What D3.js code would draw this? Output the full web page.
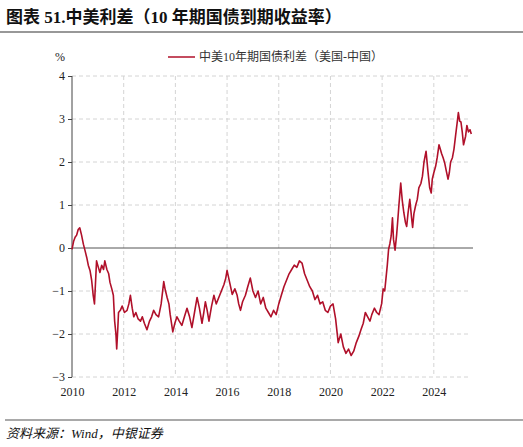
<!DOCTYPE html>
<html><head><meta charset="utf-8">
<script src="https://cdn.jsdelivr.net/npm/d3@7"></script>
<style>body{margin:0;background:#fff}svg{display:block}</style>
</head><body>
<script>
const years = [2010.0,2010.06,2010.12,2010.18,2010.24,2010.3,2010.37,2010.44,2010.5,2010.57,2010.63,2010.7,2010.76,2010.82,2010.87,2010.91,2010.95,2011.02,2011.08,2011.15,2011.22,2011.27,2011.35,2011.42,2011.47,2011.54,2011.6,2011.65,2011.7,2011.73,2011.77,2011.8,2011.87,2011.94,2012.03,2012.13,2012.2,2012.26,2012.33,2012.39,2012.47,2012.56,2012.65,2012.72,2012.8,2012.9,2013.0,2013.08,2013.16,2013.25,2013.35,2013.45,2013.55,2013.6,2013.68,2013.75,2013.8,2013.9,2013.98,2014.06,2014.15,2014.25,2014.35,2014.45,2014.55,2014.64,2014.74,2014.84,2014.93,2015.03,2015.1,2015.16,2015.23,2015.3,2015.4,2015.49,2015.58,2015.68,2015.78,2015.88,2015.95,2016.0,2016.1,2016.2,2016.3,2016.39,2016.45,2016.52,2016.6,2016.71,2016.8,2016.9,2017.0,2017.1,2017.2,2017.3,2017.4,2017.5,2017.6,2017.7,2017.8,2017.9,2018.0,2018.1,2018.2,2018.3,2018.4,2018.5,2018.6,2018.7,2018.8,2018.9,2019.0,2019.1,2019.2,2019.3,2019.4,2019.5,2019.6,2019.7,2019.8,2019.9,2020.0,2020.1,2020.2,2020.3,2020.4,2020.5,2020.6,2020.7,2020.8,2020.9,2021.0,2021.1,2021.18,2021.27,2021.35,2021.44,2021.53,2021.6,2021.7,2021.79,2021.88,2021.98,2022.04,2022.1,2022.15,2022.2,2022.25,2022.3,2022.35,2022.4,2022.44,2022.5,2022.56,2022.6,2022.65,2022.72,2022.78,2022.84,2022.9,2022.95,2023.0,2023.07,2023.14,2023.18,2023.23,2023.3,2023.36,2023.42,2023.5,2023.56,2023.62,2023.7,2023.77,2023.84,2023.9,2023.94,2024.0,2024.07,2024.13,2024.2,2024.25,2024.3,2024.36,2024.42,2024.48,2024.55,2024.6,2024.65,2024.72,2024.78,2024.84,2024.9,2024.95,2025.0,2025.05,2025.1,2025.15,2025.23,2025.28,2025.34,2025.4,2025.45,2025.49];
const spread = [-0.03,0.15,0.25,0.3,0.43,0.47,0.3,0.09,-0.05,-0.22,-0.4,-0.53,-0.75,-1.1,-1.3,-0.8,-0.3,-0.45,-0.57,-0.4,-0.5,-0.3,-0.5,-0.6,-0.8,-0.95,-1.1,-1.7,-2.0,-2.35,-1.9,-1.5,-1.45,-1.35,-1.5,-1.45,-1.3,-1.1,-1.4,-1.6,-1.5,-1.65,-1.7,-1.6,-1.75,-1.9,-1.7,-1.6,-1.45,-1.55,-1.6,-1.3,-0.78,-0.95,-1.15,-1.3,-1.55,-1.95,-1.75,-1.6,-1.7,-1.8,-1.6,-1.4,-1.6,-1.85,-1.5,-1.15,-1.4,-1.75,-1.5,-1.25,-1.45,-1.7,-1.35,-1.1,-1.3,-1.15,-1.0,-0.85,-0.7,-0.52,-0.8,-1.08,-0.95,-1.1,-1.3,-1.45,-1.25,-1.1,-0.9,-0.7,-1.0,-1.15,-1.0,-1.3,-1.15,-1.4,-1.5,-1.6,-1.45,-1.55,-1.3,-1.1,-0.9,-0.75,-0.6,-0.5,-0.4,-0.45,-0.3,-0.35,-0.6,-0.75,-0.9,-1.0,-1.2,-1.1,-1.3,-1.25,-1.45,-1.5,-1.35,-1.3,-1.65,-2.2,-2.0,-2.3,-2.45,-2.35,-2.5,-2.4,-2.2,-2.05,-1.9,-1.75,-1.5,-1.6,-1.7,-1.55,-1.4,-1.5,-1.55,-1.3,-0.95,-1.0,-0.7,-0.4,-0.03,0.1,0.28,0.7,0.2,-0.05,0.3,0.6,1.0,1.51,1.1,0.82,0.6,0.5,0.8,1.13,0.7,0.48,0.8,1.0,1.13,1.4,1.5,1.67,2.0,2.25,1.8,1.4,1.28,1.6,1.75,1.9,2.1,2.4,2.3,2.2,2.1,1.98,1.8,1.6,1.75,2.0,2.1,2.3,2.6,2.9,3.15,2.95,2.93,2.7,2.4,2.6,2.85,2.7,2.75,2.65];
const yTicks = [-3,-2,-1,0,1,2,3,4];
const xTicks = [2010,2012,2014,2016,2018,2020,2022,2024];
const W=523,H=447;
const svg=d3.select("body").append("svg").attr("width",W).attr("height",H);
const serif='"Liberation Serif","Noto Sans CJK SC",serif';
svg.append("text").attr("x",6).attr("y",23).attr("font-family",serif).attr("font-weight","bold").attr("font-size",17).attr("fill","#111").text("图表 51.中美利差（10 年期国债到期收益率）");
svg.append("line").attr("x1",0).attr("x2",W).attr("y1",32).attr("y2",32).attr("stroke","#333").attr("stroke-width",1.2);
svg.append("line").attr("x1",5).attr("x2",W).attr("y1",420).attr("y2",420).attr("stroke","#555").attr("stroke-width",1.2);
svg.append("text").attr("x",6).attr("y",438).attr("font-family",serif).attr("font-style","italic").attr("font-size",13).attr("fill","#111").text("资料来源：Wind，中银证券");
const x=d3.scaleLinear().domain([2010,2025.4]).range([72,470]);
const y=d3.scaleLinear().domain([-3,4]).range([377,76]);
const g=svg.append("g");
yTicks.forEach(t=>{ if(t!==0) g.append("line").attr("x1",72).attr("x2",470).attr("y1",y(t)).attr("y2",y(t)).attr("stroke","#d4d4d4").attr("stroke-dasharray","4,3");});
xTicks.slice(1).forEach(t=>g.append("line").attr("x1",x(t)).attr("x2",x(t)).attr("y1",76).attr("y2",377).attr("stroke","#d4d4d4").attr("stroke-dasharray","4,3"));
g.append("line").attr("x1",72).attr("x2",473).attr("y1",y(0)).attr("y2",y(0)).attr("stroke","#555").attr("stroke-width",1);
const ax=svg.append("g").attr("transform","translate(72,0)").call(d3.axisLeft(y).tickValues(yTicks).tickSize(4).tickFormat(d3.format("d")));
ax.select(".domain").attr("stroke","#444").attr("d","M0,76V377");
ax.selectAll(".tick line").attr("stroke","#444");
ax.selectAll("text").attr("font-family",serif).attr("font-size",12).attr("fill","#222");
const bx=svg.append("g").attr("transform","translate(0,377)").call(d3.axisBottom(x).tickValues(xTicks).tickSize(0).tickFormat(d3.format("d")));
bx.select(".domain").remove();
bx.selectAll("text").attr("dy","1.3em").attr("font-family",serif).attr("font-size",12).attr("fill","#222");
const data=years.map((d,i)=>[d,spread[i]]);
svg.append("path").datum(data).attr("fill","none").attr("stroke","#b0102a").attr("stroke-width",1.6).attr("stroke-linejoin","round")
 .attr("d",d3.line().x(d=>x(d[0])).y(d=>y(d[1])));
svg.append("text").attr("x",55).attr("y",61).attr("font-family",serif).attr("font-size",12).attr("fill","#222").text("%");
svg.append("line").attr("x1",168).attr("x2",195).attr("y1",57).attr("y2",57).attr("stroke","#b0102a").attr("stroke-width",1.5);
svg.append("text").attr("x",199).attr("y",61).attr("font-family",serif).attr("font-size",12).attr("fill","#333").text("中美10年期国债利差（美国-中国）");
</script></body></html>
